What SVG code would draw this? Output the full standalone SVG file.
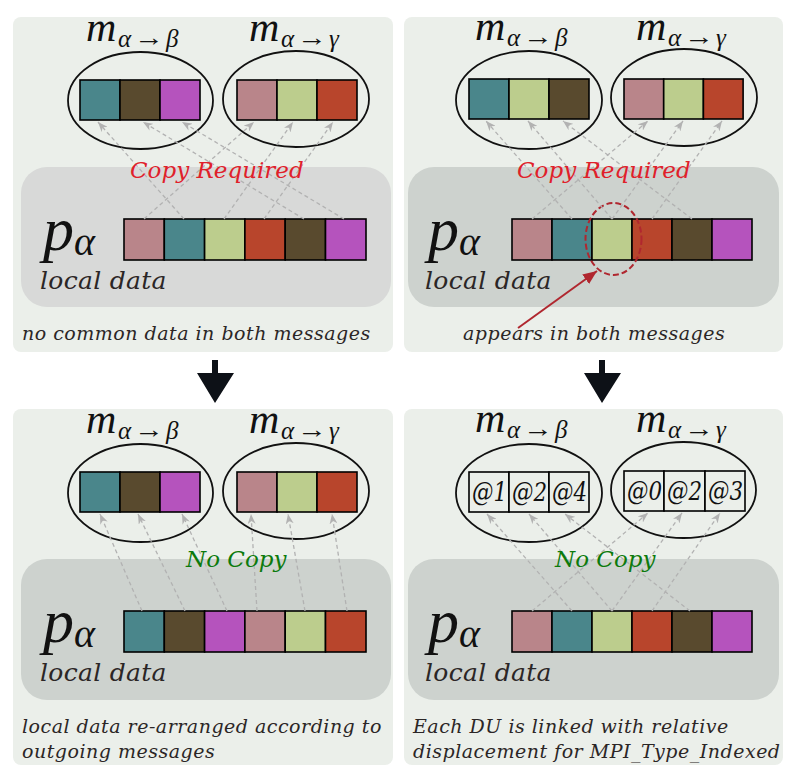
<svg xmlns="http://www.w3.org/2000/svg" width="801" height="781" viewBox="0 0 801 781">
<style>
.panel{fill:#ebefea}
.inner{fill:#cdd2ce}
.inner1{fill:#d8d9d8}
.ell{fill:none;stroke:#111;stroke-width:1.8}
.cell{stroke:#000;stroke-width:1.6}
.teal{fill:#4a868b}.brown{fill:#594a2e}.purple{fill:#b553bd}.pink{fill:#b9858a}.green{fill:#bccd8d}.red{fill:#b8452c}.blank{fill:#ebefea}
.link{fill:none;stroke:#b2b2b2;stroke-width:1.3;stroke-dasharray:4 3;marker-end:url(#ah)}
.math{font-family:"Liberation Serif","DejaVu Serif",serif;font-style:italic;fill:#111}
.m{font-size:42px}
.sub{font-size:25px}
.arr{font-family:"Liberation Serif","DejaVu Serif",serif;font-size:25px;fill:#111}
.p{font-size:62px}
.pa{font-size:40px}
.txt{font-family:"DejaVu Serif",serif;font-style:italic;fill:#2b2626}
.cap{font-size:19px;letter-spacing:0.5px}
.ld{font-size:25px;letter-spacing:0.3px}
.copy{font-family:"DejaVu Serif",serif;font-style:italic;font-size:23px;fill:#e0202a}
.nocopy{font-family:"DejaVu Serif",serif;font-style:italic;font-size:23px;fill:#0c7a0c}
.at{font-family:"DejaVu Serif",serif;font-style:italic;font-size:26px;fill:#111}
.big{fill:#0d1117}
</style>
<defs>
<marker id="ah" viewBox="0 0 10 8" refX="10" refY="4" markerWidth="10" markerHeight="8" markerUnits="userSpaceOnUse" orient="auto">
<path d="M0,0 L10,4 L0,8 L3,4 z" fill="#b2b2b2"/>
</marker>
<marker id="rah" viewBox="0 0 12 10" refX="12" refY="5" markerWidth="14" markerHeight="12" markerUnits="userSpaceOnUse" orient="auto">
<path d="M0,0 L12,5 L0,10 z" fill="#b0272f"/>
</marker>
</defs>

<!-- Top-left panel -->
<g id="panel-tl">
<rect class="panel" x="13" y="17" width="380" height="335" rx="8"/>
<rect class="inner1" x="21" y="167" width="370" height="140" rx="26"/>
<ellipse class="ell" cx="140.5" cy="100.5" rx="72.5" ry="48.5"/>
<ellipse class="ell" cx="296" cy="99" rx="73" ry="48"/>
<rect class="cell teal" x="80" y="80" width="40" height="40"/>
<rect class="cell brown" x="120" y="80" width="40" height="40"/>
<rect class="cell purple" x="160" y="80" width="40" height="40"/>
<rect class="cell pink" x="237" y="80" width="40" height="40"/>
<rect class="cell green" x="277" y="80" width="40" height="40"/>
<rect class="cell red" x="317" y="80" width="40" height="40"/>
<rect class="cell pink" x="124" y="219" width="40.3" height="41"/>
<rect class="cell teal" x="164.3" y="219" width="40.3" height="41"/>
<rect class="cell green" x="204.6" y="219" width="40.3" height="41"/>
<rect class="cell red" x="244.9" y="219" width="40.3" height="41"/>
<rect class="cell brown" x="285.2" y="219" width="40.3" height="41"/>
<rect class="cell purple" x="325.5" y="219" width="40.5" height="41"/>
<text class="math m" x="86" y="41">m</text>
<text class="math sub" x="118" y="47">α</text>
<text class="arr" x="134" y="46" textLength="30" lengthAdjust="spacingAndGlyphs">→</text>
<text class="math sub" x="166" y="47">β</text>
<text class="math m" x="249" y="41">m</text>
<text class="math sub" x="281" y="47">α</text>
<text class="arr" x="297" y="46" textLength="30" lengthAdjust="spacingAndGlyphs">→</text>
<text class="math sub" x="329" y="47">γ</text>
<text class="math p" x="43" y="250">p</text>
<text class="math pa" x="74" y="255">α</text>
<text class="txt ld" x="40" y="289">local data</text>
<text class="txt cap" x="22" y="340">no common data in both messages</text>
</g>

<!-- Top-right panel -->
<g id="panel-tr">
<rect class="panel" x="404" y="17" width="379" height="335" rx="8"/>
<rect class="inner" x="408" y="167" width="371" height="140" rx="26"/>
<ellipse class="ell" cx="529" cy="100" rx="73" ry="49"/>
<ellipse class="ell" cx="684" cy="97.5" rx="73" ry="48.5"/>
<rect class="cell teal" x="469" y="79" width="40" height="40"/>
<rect class="cell green" x="509" y="79" width="40" height="40"/>
<rect class="cell brown" x="549" y="79" width="40" height="40"/>
<rect class="cell pink" x="624" y="79" width="39.7" height="40"/>
<rect class="cell green" x="663.7" y="79" width="39.7" height="40"/>
<rect class="cell red" x="703.4" y="79" width="39.7" height="40"/>
<rect class="cell pink" x="512" y="219" width="40" height="41"/>
<rect class="cell teal" x="552" y="219" width="40" height="41"/>
<rect class="cell green" x="592" y="219" width="40" height="41"/>
<rect class="cell red" x="632" y="219" width="40" height="41"/>
<rect class="cell brown" x="672" y="219" width="40" height="41"/>
<rect class="cell purple" x="712" y="219" width="40" height="41"/>
<text class="math m" x="475" y="40">m</text>
<text class="math sub" x="507" y="46">α</text>
<text class="arr" x="523" y="45" textLength="30" lengthAdjust="spacingAndGlyphs">→</text>
<text class="math sub" x="555" y="46">β</text>
<text class="math m" x="636" y="40">m</text>
<text class="math sub" x="668" y="46">α</text>
<text class="arr" x="684" y="45" textLength="30" lengthAdjust="spacingAndGlyphs">→</text>
<text class="math sub" x="716" y="46">γ</text>
<text class="math p" x="428" y="250">p</text>
<text class="math pa" x="459" y="255">α</text>
<text class="txt ld" x="425" y="289">local data</text>
<text class="txt cap" x="463" y="340">appears in both messages</text>
<ellipse cx="613.5" cy="239" rx="28" ry="36" fill="none" stroke="#b0272f" stroke-width="2" stroke-dasharray="6 3"/>
</g>

<!-- Bottom-left panel -->
<g id="panel-bl">
<rect class="panel" x="13" y="409" width="380" height="356" rx="8"/>
<rect class="inner" x="21" y="559" width="370" height="141" rx="26"/>
<ellipse class="ell" cx="140.5" cy="493" rx="72.5" ry="49"/>
<ellipse class="ell" cx="296" cy="491" rx="73" ry="48"/>
<rect class="cell teal" x="80" y="472" width="40" height="40"/>
<rect class="cell brown" x="120" y="472" width="40" height="40"/>
<rect class="cell purple" x="160" y="472" width="40" height="40"/>
<rect class="cell pink" x="237" y="472" width="40" height="40"/>
<rect class="cell green" x="277" y="472" width="40" height="40"/>
<rect class="cell red" x="317" y="472" width="40" height="40"/>
<rect class="cell teal" x="124" y="611" width="40.3" height="41"/>
<rect class="cell brown" x="164.3" y="611" width="40.3" height="41"/>
<rect class="cell purple" x="204.6" y="611" width="40.3" height="41"/>
<rect class="cell pink" x="244.9" y="611" width="40.3" height="41"/>
<rect class="cell green" x="285.2" y="611" width="40.3" height="41"/>
<rect class="cell red" x="325.5" y="611" width="40.5" height="41"/>
<text class="math m" x="86" y="433">m</text>
<text class="math sub" x="118" y="439">α</text>
<text class="arr" x="134" y="438" textLength="30" lengthAdjust="spacingAndGlyphs">→</text>
<text class="math sub" x="166" y="439">β</text>
<text class="math m" x="249" y="433">m</text>
<text class="math sub" x="281" y="439">α</text>
<text class="arr" x="297" y="438" textLength="30" lengthAdjust="spacingAndGlyphs">→</text>
<text class="math sub" x="329" y="439">γ</text>
<text class="math p" x="43" y="642">p</text>
<text class="math pa" x="74" y="647">α</text>
<text class="txt ld" x="40" y="681">local data</text>
<text class="txt cap" x="22" y="733">local data re-arranged according to</text>
<text class="txt cap" x="22" y="758">outgoing messages</text>
</g>

<!-- Bottom-right panel -->
<g id="panel-br">
<rect class="panel" x="404" y="409" width="379" height="356" rx="8"/>
<rect class="inner" x="408" y="559" width="371" height="141" rx="26"/>
<ellipse class="ell" cx="529" cy="493" rx="73" ry="49"/>
<ellipse class="ell" cx="683.5" cy="490" rx="72.5" ry="48"/>
<rect class="cell blank" x="469" y="472" width="40" height="40"/>
<rect class="cell blank" x="509" y="472" width="40" height="40"/>
<rect class="cell blank" x="549" y="472" width="40" height="40"/>
<rect class="cell blank" x="624" y="471" width="40" height="40"/>
<rect class="cell blank" x="664" y="471" width="41" height="40"/>
<rect class="cell blank" x="705" y="471" width="40" height="40"/>
<text class="at" x="472" y="501" textLength="35" lengthAdjust="spacingAndGlyphs">@1</text>
<text class="at" x="512" y="501" textLength="35" lengthAdjust="spacingAndGlyphs">@2</text>
<text class="at" x="552" y="501" textLength="35" lengthAdjust="spacingAndGlyphs">@4</text>
<text class="at" x="627" y="500" textLength="35" lengthAdjust="spacingAndGlyphs">@0</text>
<text class="at" x="667" y="500" textLength="35" lengthAdjust="spacingAndGlyphs">@2</text>
<text class="at" x="708" y="500" textLength="35" lengthAdjust="spacingAndGlyphs">@3</text>
<rect class="cell pink" x="512" y="611" width="40" height="41"/>
<rect class="cell teal" x="552" y="611" width="40" height="41"/>
<rect class="cell green" x="592" y="611" width="40" height="41"/>
<rect class="cell red" x="632" y="611" width="40" height="41"/>
<rect class="cell brown" x="672" y="611" width="40" height="41"/>
<rect class="cell purple" x="712" y="611" width="40" height="41"/>
<text class="math m" x="475" y="432">m</text>
<text class="math sub" x="507" y="438">α</text>
<text class="arr" x="523" y="437" textLength="30" lengthAdjust="spacingAndGlyphs">→</text>
<text class="math sub" x="555" y="438">β</text>
<text class="math m" x="636" y="432">m</text>
<text class="math sub" x="668" y="438">α</text>
<text class="arr" x="684" y="437" textLength="30" lengthAdjust="spacingAndGlyphs">→</text>
<text class="math sub" x="716" y="438">γ</text>
<text class="math p" x="428" y="642">p</text>
<text class="math pa" x="459" y="647">α</text>
<text class="txt ld" x="425" y="681">local data</text>
<text class="txt cap" x="413" y="733">Each DU is linked with relative</text>
<text class="txt cap" x="413" y="758">displacement for MPI_Type_Indexed</text>
</g>

<g id="connectors">
<!-- top-left -->
<line class="link" x1="184" y1="219" x2="98" y2="122"/>
<line class="link" x1="304" y1="219" x2="143" y2="122"/>
<line class="link" x1="344" y1="219" x2="182" y2="122"/>
<line class="link" x1="144" y1="219" x2="254" y2="122"/>
<line class="link" x1="224" y1="219" x2="293" y2="122"/>
<line class="link" x1="264" y1="219" x2="333" y2="122"/>
<!-- top-right -->
<line class="link" x1="572" y1="219" x2="486" y2="121"/>
<line class="link" x1="612" y1="219" x2="528" y2="121"/>
<line class="link" x1="692" y1="219" x2="563" y2="121"/>
<line class="link" x1="532" y1="219" x2="648" y2="121"/>
<line class="link" x1="612" y1="219" x2="683" y2="121"/>
<line class="link" x1="652" y1="219" x2="722" y2="121"/>
<!-- bottom-left -->
<line class="link" x1="142" y1="611" x2="100" y2="514"/>
<line class="link" x1="185" y1="611" x2="138" y2="514"/>
<line class="link" x1="227" y1="611" x2="182" y2="514"/>
<line class="link" x1="257" y1="611" x2="251" y2="514"/>
<line class="link" x1="305" y1="611" x2="288" y2="514"/>
<line class="link" x1="347" y1="611" x2="332" y2="514"/>
<!-- bottom-right -->
<line class="link" x1="572" y1="611" x2="487" y2="514"/>
<line class="link" x1="612" y1="611" x2="529" y2="514"/>
<line class="link" x1="690" y1="611" x2="565" y2="514"/>
<line class="link" x1="532" y1="611" x2="648" y2="513"/>
<line class="link" x1="612" y1="611" x2="682" y2="513"/>
<line class="link" x1="652" y1="611" x2="720" y2="513"/>
<!-- red pointer -->
<line x1="518" y1="328" x2="597" y2="271" stroke="#b0272f" stroke-width="2" marker-end="url(#rah)"/>
<!-- big arrows -->
<path class="big" d="M212,360 H218 V373 H234 L215,403 L197,373 H212 Z"/>
<path class="big" d="M599,360 H605 V373 H621 L602,403 L584,373 H599 Z"/>
</g>

<g id="labels">
<text class="copy" x="130" y="178">Copy Required</text>
<text class="copy" x="517" y="178">Copy Required</text>
<text class="nocopy" x="186" y="567">No Copy</text>
<text class="nocopy" x="555" y="567">No Copy</text>
</g>
</svg>
